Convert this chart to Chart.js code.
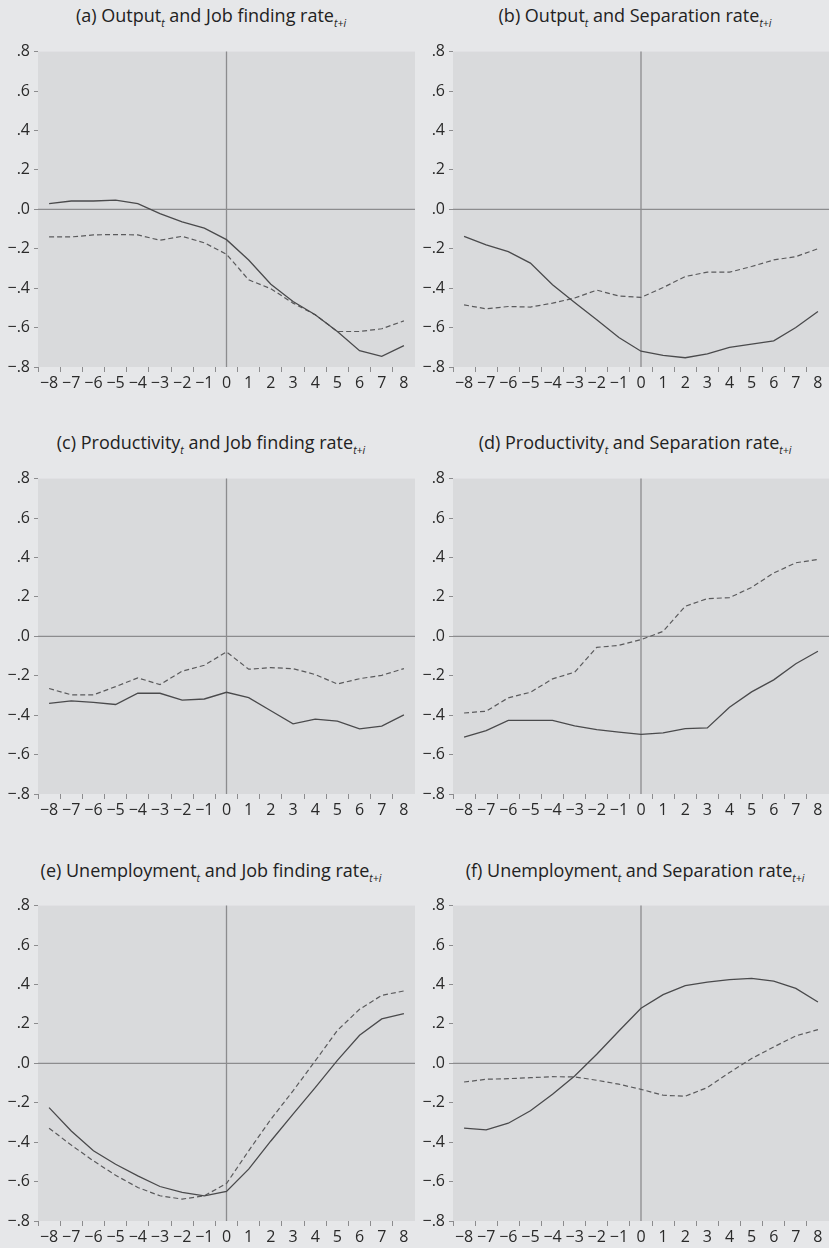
<!DOCTYPE html>
<html>
<head>
<meta charset="utf-8">
<script src="https://cdn.jsdelivr.net/npm/chart.js@4.4.1/dist/chart.umd.min.js"></script>
<style>
  body { margin: 0; background: #e6e7e9; width: 829px; height: 1248px; overflow: hidden; position: relative; font-family: "Open Sans", sans-serif; }
  .panel { position: absolute; }
  .title { position: absolute; width: 420px; text-align: center; font-size: 18px; color: #222; white-space: nowrap; }
  .title sub { font-size: 0.58em; font-style: italic; vertical-align: -0.45em; line-height: 0; }
</style>
</head>
<body>

<div class="title" style="left:1px;top:3px">(a) Output<sub>t</sub> and Job finding rate<sub>t+i</sub></div>
<div class="title" style="left:425px;top:3px">(b) Output<sub>t</sub> and Separation rate<sub>t+i</sub></div>
<div class="title" style="left:1px;top:430px">(c) Productivity<sub>t</sub> and Job finding rate<sub>t+i</sub></div>
<div class="title" style="left:425px;top:430px">(d) Productivity<sub>t</sub> and Separation rate<sub>t+i</sub></div>
<div class="title" style="left:1px;top:858px">(e) Unemployment<sub>t</sub> and Job finding rate<sub>t+i</sub></div>
<div class="title" style="left:425px;top:858px">(f) Unemployment<sub>t</sub> and Separation rate<sub>t+i</sub></div>

<div class="panel" style="left:0;top:38px;width:415px;height:359px"><canvas id="chartA"></canvas></div>
<div class="panel" style="left:415px;top:38px;width:414px;height:359px"><canvas id="chartB"></canvas></div>
<div class="panel" style="left:0;top:465px;width:415px;height:359px"><canvas id="chartC"></canvas></div>
<div class="panel" style="left:415px;top:465px;width:414px;height:359px"><canvas id="chartD"></canvas></div>
<div class="panel" style="left:0;top:892px;width:415px;height:359px"><canvas id="chartE"></canvas></div>
<div class="panel" style="left:415px;top:892px;width:414px;height:359px"><canvas id="chartF"></canvas></div>

<script>
const lags = [-8, -7, -6, -5, -4, -3, -2, -1, 0, 1, 2, 3, 4, 5, 6, 7, 8];
const yTicks = [-0.8, -0.6, -0.4, -0.2, 0, 0.2, 0.4, 0.6, 0.8];

// (a) Output and job finding rate
const aSolid  = [0.029, 0.042, 0.042, 0.047, 0.029, -0.022, -0.064, -0.096, -0.154, -0.257, -0.38, -0.468, -0.535, -0.62, -0.717, -0.746, -0.692];
const aDashed = [-0.14, -0.14, -0.13, -0.128, -0.13, -0.157, -0.137, -0.17, -0.228, -0.358, -0.403, -0.476, -0.535, -0.62, -0.62, -0.606, -0.566];

// (b) Output and separation rate
const bSolid  = [-0.137, -0.18, -0.215, -0.273, -0.383, -0.473, -0.56, -0.65, -0.72, -0.741, -0.753, -0.734, -0.70, -0.684, -0.667, -0.60, -0.518];
const bDashed = [-0.485, -0.505, -0.493, -0.496, -0.476, -0.45, -0.41, -0.44, -0.447, -0.397, -0.341, -0.319, -0.319, -0.29, -0.257, -0.24, -0.20];

// (c) Productivity and job finding rate
const cSolid  = [-0.34, -0.328, -0.335, -0.346, -0.289, -0.289, -0.324, -0.318, -0.284, -0.311, -0.378, -0.444, -0.42, -0.43, -0.47, -0.456, -0.399];
const cDashed = [-0.265, -0.297, -0.297, -0.255, -0.211, -0.245, -0.177, -0.147, -0.079, -0.167, -0.159, -0.164, -0.194, -0.242, -0.215, -0.198, -0.164];

// (d) Productivity and separation rate
const dSolid  = [-0.512, -0.478, -0.427, -0.427, -0.427, -0.454, -0.473, -0.486, -0.498, -0.49, -0.468, -0.465, -0.36, -0.282, -0.221, -0.139, -0.076];
const dDashed = [-0.389, -0.38, -0.312, -0.284, -0.216, -0.182, -0.056, -0.046, -0.017, 0.025, 0.152, 0.191, 0.196, 0.248, 0.321, 0.373, 0.39];

// (e) Unemployment and job finding rate
const eSolid  = [-0.225, -0.343, -0.444, -0.512, -0.571, -0.625, -0.655, -0.672, -0.65, -0.537, -0.394, -0.258, -0.123, 0.015, 0.142, 0.225, 0.252];
const eDashed = [-0.329, -0.415, -0.495, -0.568, -0.63, -0.672, -0.689, -0.672, -0.61, -0.444, -0.284, -0.14, 0.012, 0.167, 0.274, 0.345, 0.367];

// (f) Unemployment and separation rate
const fSolid  = [-0.329, -0.338, -0.304, -0.241, -0.157, -0.064, 0.046, 0.164, 0.279, 0.348, 0.394, 0.412, 0.424, 0.431, 0.417, 0.38, 0.311];
const fDashed = [-0.095, -0.081, -0.078, -0.073, -0.068, -0.069, -0.086, -0.106, -0.132, -0.162, -0.167, -0.123, -0.047, 0.024, 0.083, 0.139, 0.171];

const fontFamily = '"Open Sans", sans-serif';

const fmtTick = v => {
    const r = Math.round(v * 10) / 10;
    if (r === 0) return '.0';
    const s = Math.abs(r).toFixed(1).replace(/^0/, '');
    return r < 0 ? '\u2212' + s : s;
};

// shaded plot area plus the zero reference lines
const panelBackdrop = {
    id: 'panelBackdrop',
    beforeDraw(chart) {
        const { ctx, chartArea: a } = chart;
        ctx.save();
        ctx.fillStyle = '#d9dadc';
        ctx.fillRect(a.left, a.top, a.right - a.left, a.bottom - a.top);
        ctx.restore();
    },
    beforeDatasetsDraw(chart) {
        const { ctx, chartArea: a, scales } = chart;
        const y0 = scales.y.getPixelForValue(0);
        const x0 = scales.x.getPixelForValue(lags.indexOf(0));
        ctx.save();
        ctx.strokeStyle = '#8c8c8e';
        ctx.lineWidth = 1.3;
        ctx.beginPath();
        ctx.moveTo(a.left, y0);
        ctx.lineTo(a.right, y0);
        ctx.moveTo(x0, a.top);
        ctx.lineTo(x0, a.bottom);
        ctx.stroke();
        ctx.restore();
    }
};

function makePanel(id, solid, dashed) {
    const ctx = document.getElementById(id);
    return new Chart(ctx, {
        type: 'line',
        data: {
            labels: lags.map(v => v < 0 ? '\u2212' + Math.abs(v) : String(v)),
            datasets: [
                { data: solid, borderColor: '#4a4a4c', borderWidth: 1.3, pointRadius: 0, tension: 0, fill: false },
                { data: dashed, borderColor: '#5a5a5c', borderWidth: 1.2, borderDash: [5, 3], pointRadius: 0, tension: 0, fill: false }
            ]
        },
        options: {
            responsive: true,
            maintainAspectRatio: false,
            animation: false,
            layout: { padding: { top: 12, right: 0, left: 0, bottom: 0 } },
            plugins: { legend: { display: false }, tooltip: { enabled: false } },
            scales: {
                x: {
                    offset: true,
                    grid: { offset: true, drawOnChartArea: false, drawTicks: true, tickLength: 5, color: '#8c8c8e' },
                    border: { display: false },
                    ticks: { color: '#2a2a2a', padding: 2, maxRotation: 0, autoSkip: false, font: { family: fontFamily, size: 16 } },
                    afterFit(scale) { scale.height = 30; }
                },
                y: {
                    min: -0.8,
                    max: 0.8,
                    afterBuildTicks(scale) { scale.ticks = yTicks.map(v => ({ value: v })); },
                    grid: { drawOnChartArea: false, drawTicks: true, tickLength: 4, color: '#8c8c8e' },
                    border: { display: false },
                    ticks: { color: '#2a2a2a', padding: 4, callback: fmtTick, font: { family: fontFamily, size: 16 } },
                    afterFit(scale) { scale.width = 38; }
                }
            }
        },
        plugins: [panelBackdrop]
    });
}

makePanel('chartA', aSolid, aDashed);
makePanel('chartB', bSolid, bDashed);
makePanel('chartC', cSolid, cDashed);
makePanel('chartD', dSolid, dDashed);
makePanel('chartE', eSolid, eDashed);
makePanel('chartF', fSolid, fDashed);
</script>
</body>
</html>
